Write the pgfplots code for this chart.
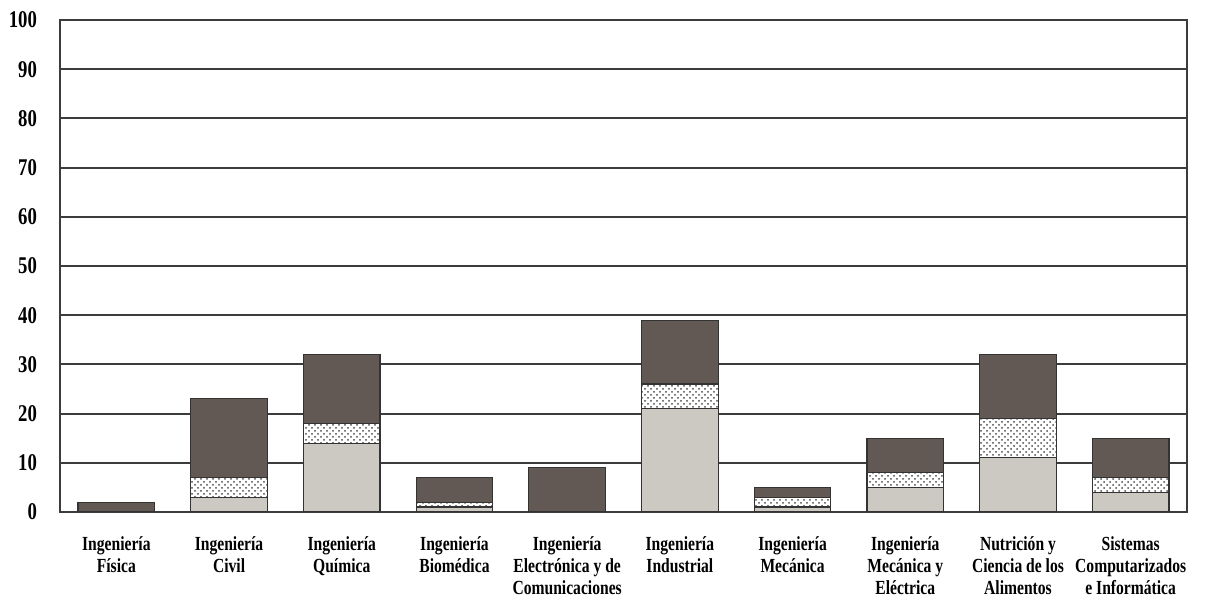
\documentclass[border=0pt]{standalone}
\usepackage{pgfplots}
\pgfplotsset{compat=1.18}
\usetikzlibrary{patterns}
\usepackage{fontspec}
\setmainfont{Liberation Serif}[FakeStretch=0.78]
\definecolor{darkbar}{RGB}{98,88,84}
\definecolor{lightbar}{RGB}{204,200,194}
\definecolor{gridc}{RGB}{60,60,60}
\begin{document}
\begin{tikzpicture}
\useasboundingbox (-30pt,-48pt) rectangle (572.5pt,256pt);
\begin{axis}[
  at={(0,0)}, anchor=south west,
  scale only axis, width=563.5pt, height=246pt,
  ybar stacked, bar width=0.68,
  xmin=-0.5, xmax=9.5, ymin=0, ymax=100,
  xtick={0,...,9},
  xticklabels={{Ingeniería\\Física},{Ingeniería\\Civil},{Ingeniería\\Química},{Ingeniería\\Biomédica},{Ingeniería\\Electrónica y de\\Comunicaciones},{Ingeniería\\Industrial},{Ingeniería\\Mecánica},{Ingeniería\\Mecánica y\\Eléctrica},{Nutrición y\\Ciencia de los\\Alimentos},{Sistemas\\Computarizados\\e Informática}},
  ytick={0,10,...,100},
  ymajorgrids, grid style={gridc, line width=1pt},
  axis line style={gridc, line width=1pt},
  major tick length=0pt,
  xtick style={draw=none}, ytick style={draw=none},
  /pgf/number format/assume math mode=true,
  yticklabel style={font=\bfseries\fontsize{12}{12}\selectfont, xshift=-8pt},
  xticklabel style={font=\bfseries\fontsize{10}{11}\selectfont, align=center, yshift=-9pt},
]
\addplot[fill=lightbar, draw=black!80, line width=0.6pt] coordinates {(0,0) (1,3) (2,14) (3,1) (4,0) (5,21) (6,1) (7,5) (8,11) (9,4)};
\addplot[fill=white, postaction={pattern=crosshatch dots, pattern color=black!70}, draw=black!80, line width=0.6pt] coordinates {(0,0) (1,4) (2,4) (3,1) (4,0) (5,5) (6,2) (7,3) (8,8) (9,3)};
\addplot[fill=darkbar, draw=black!80, line width=0.6pt] coordinates {(0,2) (1,16) (2,14) (3,5) (4,9) (5,13) (6,2) (7,7) (8,13) (9,8)};
\end{axis}
\end{tikzpicture}
\end{document}
